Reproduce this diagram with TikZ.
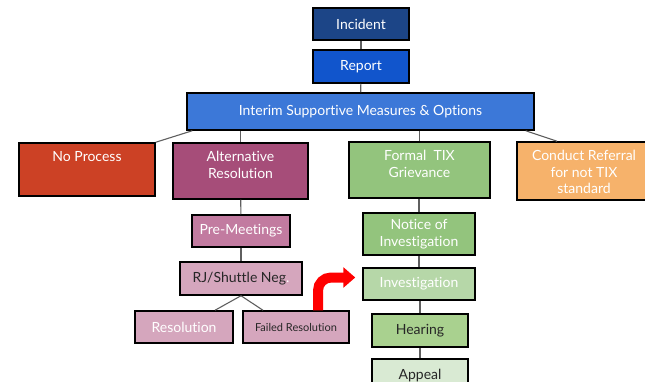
\documentclass[tikz,border=0pt]{standalone}
\usepackage{fontspec}
\setmainfont{Lato}[Ligatures={NoCommon,NoDiscretionary}]
\usepackage{xcolor}
\usepackage{tikz}
\usetikzlibrary{arrows.meta}
\definecolor{incident}{HTML}{1C4587}
\definecolor{report}{HTML}{1155CC}
\definecolor{interim}{HTML}{3C78D8}
\definecolor{noproc}{HTML}{CC4125}
\definecolor{altres}{HTML}{A64D79}
\definecolor{formal}{HTML}{93C47D}
\definecolor{conduct}{HTML}{F6B26B}
\definecolor{premeet}{HTML}{C27BA0}
\definecolor{pinklight}{HTML}{D5A6BD}
\definecolor{greenlight}{HTML}{B6D7A8}
\definecolor{hearing}{HTML}{A9D18F}
\definecolor{appeal}{HTML}{D9EAD3}
\definecolor{darktext}{HTML}{262626}
\definecolor{linkgray}{HTML}{5F5F5F}
\definecolor{arrowred}{HTML}{FF0000}
\tikzset{
  box/.style={draw=black, line width=1.5pt, text=white, inner sep=0pt, align=center,
    font=\fontsize{14}{16.5}\selectfont},
  toptext/.style={anchor=north, yshift=-5pt, text=white, inner sep=4pt, align=center,
    font=\fontsize{14}{16.5}\selectfont},
  link/.style={draw=linkgray, line width=1.1pt},
  bentarrow/.style={draw=arrowred, line width=10pt, rounded corners=13pt,
    -{Triangle[width=20pt,length=12pt]}},
}

\begin{document}
\begin{tikzpicture}[x=1pt,y=-1pt]
  \useasboundingbox (0,0) rectangle (645,382);

  \node[box, fill=incident, minimum width=96pt, minimum height=32pt] (incident) at (361,24) {Incident};
  \node[box, fill=report, minimum width=96pt, minimum height=33pt] (report) at (361,66.5) {Report};
  \node[box, fill=interim, minimum width=347pt, minimum height=37pt] (interim) at (360.5,111.5) {Interim Supportive Measures \& Options};

  \node[box, fill=noproc, minimum width=136pt, minimum height=53pt,
    label={[toptext]north:No Process}] (noproc) at (87,169.5) {};
  \node[box, fill=altres, minimum width=135pt, minimum height=56pt,
    label={[toptext]north:Alternative\\Resolution}] (altres) at (240.5,171) {};
  \node[box, fill=formal, minimum width=141pt, minimum height=56pt,
    label={[toptext]north:Formal\ \ TIX\\Grievance}] (formal) at (419.5,170) {};
  \node[box, fill=conduct, minimum width=134pt, minimum height=58pt,
    label={[toptext]north:Conduct Referral\\for not TIX\\standard}] (conduct) at (584,171) {};

  \node[box, fill=premeet, minimum width=98pt, minimum height=32pt] (premeet) at (241,231) {Pre-Meetings};
  \node[box, fill=pinklight, text=darktext, minimum width=122pt, minimum height=33pt] (shuttle) at (241,278.5) {RJ/Shuttle Neg\textcolor{white}{.}};
  \node[box, fill=pinklight, minimum width=98pt, minimum height=32pt] (resolved) at (184,327) {Resolution};
  \node[box, fill=pinklight, text=darktext, minimum width=106pt, minimum height=32pt,
    font=\fontsize{11}{13}\selectfont] (failed) at (296,327) {Failed Resolution};

  \node[box, fill=formal, minimum width=112pt, minimum height=42pt] (notice) at (419,234) {Notice of\\Investigation};
  \node[box, fill=greenlight, minimum width=112pt, minimum height=32pt] (invest) at (419,284) {Investigation};
  \node[box, fill=hearing, text=darktext, minimum width=96pt, minimum height=33pt] (hearing) at (420,330.5) {Hearing};
  \node[box, fill=appeal, text=darktext, minimum width=96pt, minimum height=33pt] (appeal) at (420,375.5) {Appeal};

  \draw[link] (incident) -- (report);
  \draw[link] (report) -- (interim);
  \draw[link] ([xshift=6pt]interim.south west) -- (noproc.north east);
  \draw[link] (interim.south -| altres.north) -- (altres.north);
  \draw[link] (interim.south -| formal.north) -- (formal.north);
  \draw[link] ([xshift=-9pt]interim.south east) -- ([xshift=-27pt]conduct.north);
  \draw[link] (altres) -- (premeet);
  \draw[link] (premeet) -- (shuttle);
  \draw[link] (shuttle.south) -- ([xshift=31pt]resolved.north);
  \draw[link] (shuttle.south) -- ([xshift=-33pt]failed.north);
  \draw[link] (formal.south -| notice.north) -- (notice.north);
  \draw[link] (notice) -- (invest);
  \draw[link] (invest.south -| hearing.north) -- (hearing.north);
  \draw[link] (hearing) -- (appeal);

  \draw[bentarrow, shorten >=7pt] ([xshift=22pt]failed.north) |- ([yshift=6.5pt]invest.west);
\end{tikzpicture}
\end{document}
